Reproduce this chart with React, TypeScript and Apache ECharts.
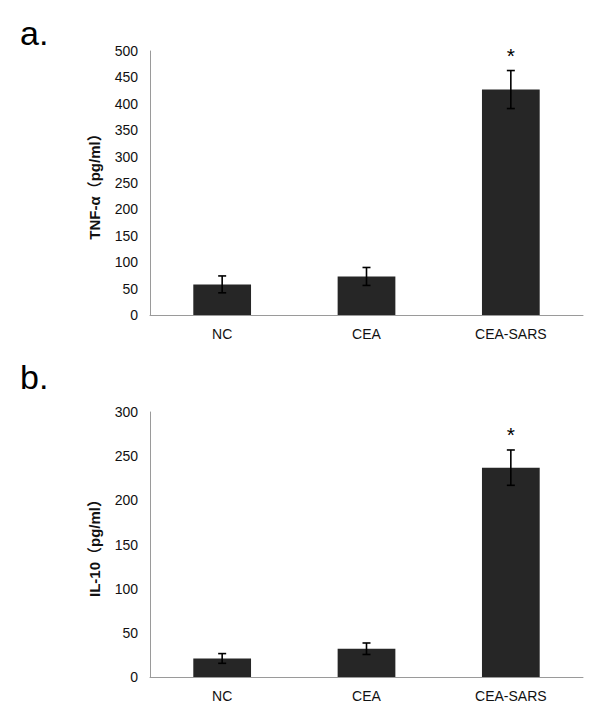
import React, { useEffect, useRef } from "react";
import * as echarts from "echarts";

const categories = ["NC", "CEA", "CEA-SARS"];
const tnfMean = [58, 73, 427];
const tnfErr = [16, 17, 36];
const il10Mean = [21, 32, 237];
const il10Err = [5.5, 6.5, 20];
const significance = ["", "", "*"];
const tnfAxis = { min: 0, max: 500, interval: 50 };
const il10Axis = { min: 0, max: 300, interval: 50 };

const FONT = "Arial, 'Liberation Sans', 'Noto Sans CJK SC', sans-serif";

function errorSeries(axisIndex: number, mean: number[], err: number[]) {
  return {
    type: "custom",
    xAxisIndex: axisIndex,
    yAxisIndex: axisIndex,
    z: 5,
    data: mean.map((m, i) => [i, m, err[i]]),
    renderItem: (params: any, api: any) => {
      const x = api.value(0);
      const m = api.value(1);
      const e = api.value(2);
      const top = api.coord([x, m + e]);
      const bot = api.coord([x, m - e]);
      const cap = 4;
      const style = { stroke: "#000", lineWidth: 1.6 };
      const children: any[] = [
        { type: "line", shape: { x1: top[0], y1: top[1], x2: bot[0], y2: bot[1] }, style },
        { type: "line", shape: { x1: top[0] - cap, y1: top[1], x2: top[0] + cap, y2: top[1] }, style },
        { type: "line", shape: { x1: bot[0] - cap, y1: bot[1], x2: bot[0] + cap, y2: bot[1] }, style },
      ];
      const s = significance[params.dataIndex];
      if (s) {
        children.push({
          type: "text",
          x: top[0],
          y: top[1] - 15,
          style: { text: s, fill: "#000", font: `21px ${FONT}`, align: "center", verticalAlign: "middle" },
        });
      }
      return { type: "group", children };
    },
  };
}

function xAxisDef(gridIndex: number) {
  return {
    type: "category",
    gridIndex,
    data: categories,
    axisLine: { lineStyle: { color: "#9a9a9a", width: 1 } },
    axisTick: { show: false },
    axisLabel: { color: "#111", fontSize: 14, fontFamily: FONT, margin: 12 },
  };
}

function yAxisDef(gridIndex: number, ax: any, name: string) {
  return {
    type: "value",
    gridIndex,
    min: ax.min,
    max: ax.max,
    interval: ax.interval,
    name,
    nameLocation: "middle",
    nameRotate: 90,
    nameGap: 48,
    nameTextStyle: { color: "#111", fontSize: 15, fontWeight: "bold", fontFamily: FONT },
    axisLine: { show: true, lineStyle: { color: "#9a9a9a", width: 1 } },
    axisTick: { show: false },
    splitLine: { show: false },
    axisLabel: { color: "#111", fontSize: 14, fontFamily: FONT, margin: 12 },
  };
}

export default function App() {
  const ref = useRef<HTMLDivElement>(null);
  useEffect(() => {
    if (!ref.current) return;
    const chart = echarts.init(ref.current, undefined, { renderer: "svg" });
    chart.setOption({
      animation: false,
      backgroundColor: "#fff",
      grid: [
        { left: 150, top: 51, width: 433, height: 264 },
        { left: 150, top: 412, width: 433, height: 265 },
      ],
      xAxis: [xAxisDef(0), xAxisDef(1)],
      yAxis: [yAxisDef(0, tnfAxis, "TNF-α（pg/ml）"), yAxisDef(1, il10Axis, "IL-10（pg/ml）")],
      graphic: [
        { type: "text", left: 20, top: 16, style: { text: "a.", fill: "#000", font: `34px ${FONT}` } },
        { type: "text", left: 20, top: 360, style: { text: "b.", fill: "#000", font: `34px ${FONT}` } },
      ],
      series: [
        { type: "bar", xAxisIndex: 0, yAxisIndex: 0, data: tnfMean, barWidth: "40%", itemStyle: { color: "#262626" } },
        errorSeries(0, tnfMean, tnfErr),
        { type: "bar", xAxisIndex: 1, yAxisIndex: 1, data: il10Mean, barWidth: "40%", itemStyle: { color: "#262626" } },
        errorSeries(1, il10Mean, il10Err),
      ],
    });
    return () => chart.dispose();
  }, []);
  return <div ref={ref} style={{ position: "fixed", left: 0, top: 0, width: 600, height: 715 }} />;
}
